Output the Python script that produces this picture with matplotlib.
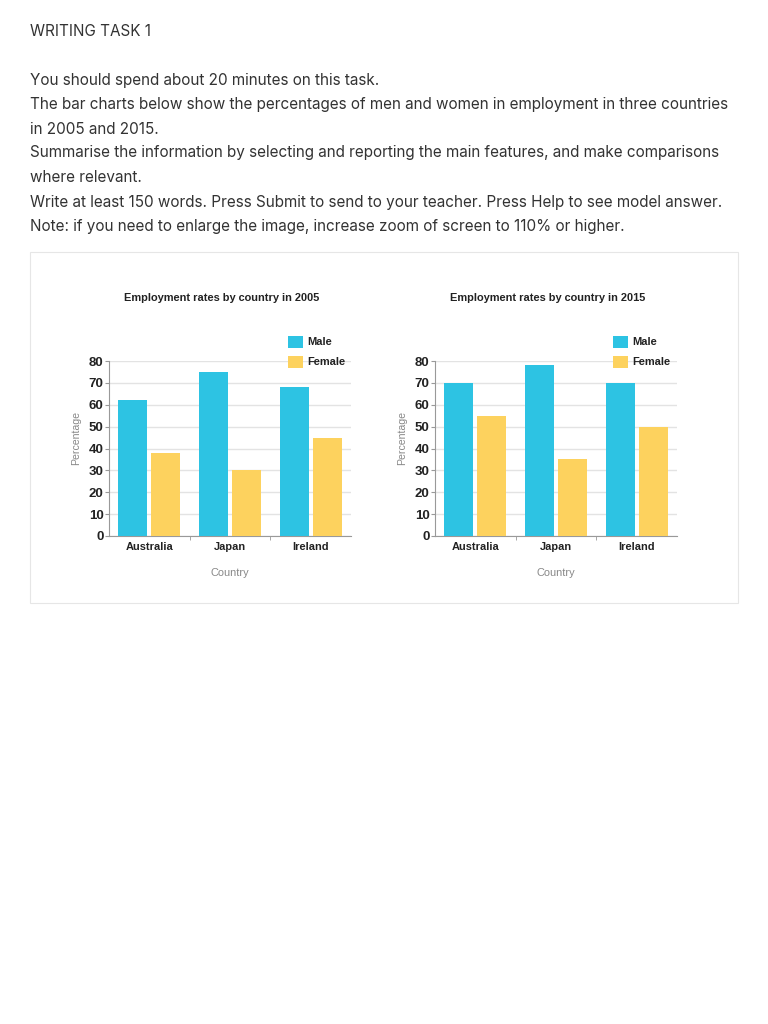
import numpy as np
import matplotlib
matplotlib.use("Agg")
import matplotlib.pyplot as plt
from matplotlib.patches import Rectangle
from matplotlib import font_manager

countries = ["Australia", "Japan", "Ireland"]
male_2005 = [62, 75, 68]
female_2005 = [38, 30, 45]
male_2015 = [70, 78, 70]
female_2015 = [55, 35, 50]
years = ["2005", "2015"]
yticks = [0, 10, 20, 30, 40, 50, 60, 70, 80]

header = "WRITING TASK 1"
body = [
    "You should spend about 20 minutes on this task.",
    "The bar charts below show the percentages of men and women in employment in three countries",
    "in 2005 and 2015.",
    "Summarise the information by selecting and reporting the main features, and make comparisons",
    "where relevant.",
    "Write at least 150 words. Press Submit to send to your teacher. Press Help to see model answer.",
    "Note: if you need to enlarge the image, increase zoom of screen to 110% or higher.",
]

MALE = "#2dc3e3"
FEMALE = "#fdd25e"
W, H = 768, 1024
names = {f.name for f in font_manager.fontManager.ttflist}
narrow = ["Liberation Sans Narrow"] if "Liberation Sans Narrow" in names else []
narrow += ["Liberation Sans", "DejaVu Sans"]
small = 8.0 if narrow[0] == "Liberation Sans Narrow" else 7.6
body_font = ["Inter", "DejaVu Sans"]

fig = plt.figure(figsize=(W / 100, H / 100), dpi=100)
fig.patch.set_facecolor("white")

def fx(px):
    return px / W

def fy(py):
    return 1 - py / H

fig.text(fx(30), fy(31), header, fontsize=11.0, color="#333333",
         family=body_font, va="center", ha="left")
line_y = [80, 104, 129, 153, 177, 202, 226]
for t, yy in zip(body, line_y):
    fig.text(fx(30), fy(yy), t, fontsize=11.0, color="#333333",
             family=body_font, va="center", ha="left")

# panel border
fig.patches.append(Rectangle((fx(30), fy(603)), fx(708), 351 / H,
                             transform=fig.transFigure, facecolor="white",
                             edgecolor="#e6e6e6", lw=0.8, zorder=-10))

def draw_panel(left_px, male, female, year, title_cx, legend_x):
    ax = fig.add_axes([fx(left_px), fy(536), fx(242), 175 / H])
    x = np.arange(len(countries))
    bw = 0.36
    gap = 0.05
    ax.bar(x - (bw + gap) / 2, male, bw, color=MALE, zorder=3)
    ax.bar(x + (bw + gap) / 2, female, bw, color=FEMALE, zorder=3)
    ax.set_xlim(-0.5, 2.5)
    ax.set_ylim(0, 80)
    ax.set_yticks(yticks)
    ax.set_yticklabels([str(v) for v in yticks], fontsize=small * 1.25,
                       fontweight="bold", family=narrow, color="#222222")
    ax.set_xticks(x)
    ax.set_xticklabels(countries, fontsize=small + 0.3, fontweight="bold",
                       family=narrow, color="#222222")
    ax.set_xticks([0.5, 1.5], minor=True)
    ax.tick_params(axis="x", which="major", length=0, pad=4)
    ax.tick_params(axis="x", which="minor", length=3, color="#999999")
    ax.tick_params(axis="y", length=3, color="#999999", pad=1)
    for s in ["top", "right"]:
        ax.spines[s].set_visible(False)
    ax.spines["left"].set_color("#999999")
    ax.spines["bottom"].set_color("#999999")
    ax.spines["left"].set_linewidth(0.8)
    ax.spines["bottom"].set_linewidth(0.8)
    ax.yaxis.grid(True, color="#e3e3e3", lw=1.0, zorder=0)
    ax.set_axisbelow(True)
    ax.set_facecolor("none")
    ax.set_ylabel("Percentage", fontsize=small, color="#888888", family=narrow)
    ax.yaxis.set_label_coords(-28 / 242, 0.56)
    ax.set_xlabel("Country", fontsize=small + 0.3, color="#888888", family=narrow,
                  labelpad=12)
    fig.text(fx(title_cx), fy(298), "Employment rates by country in " + year,
             fontsize=small + 0.3, fontweight="bold", family=narrow, color="#222222",
             ha="center", va="center")
    for label, col, yy in [("Male", MALE, 342), ("Female", FEMALE, 362)]:
        fig.patches.append(Rectangle((fx(legend_x), fy(yy + 6)), fx(15), 12 / H,
                                     transform=fig.transFigure, facecolor=col,
                                     edgecolor="none"))
        fig.text(fx(legend_x + 19), fy(yy), label, fontsize=small + 0.3,
                 fontweight="bold", family=narrow, color="#222222",
                 ha="left", va="center")
    return ax

draw_panel(109, male_2005, female_2005, years[0], 222, 288)
draw_panel(435, male_2015, female_2015, years[1], 548, 613)

fig.savefig("out.png", dpi=100, facecolor="white")
